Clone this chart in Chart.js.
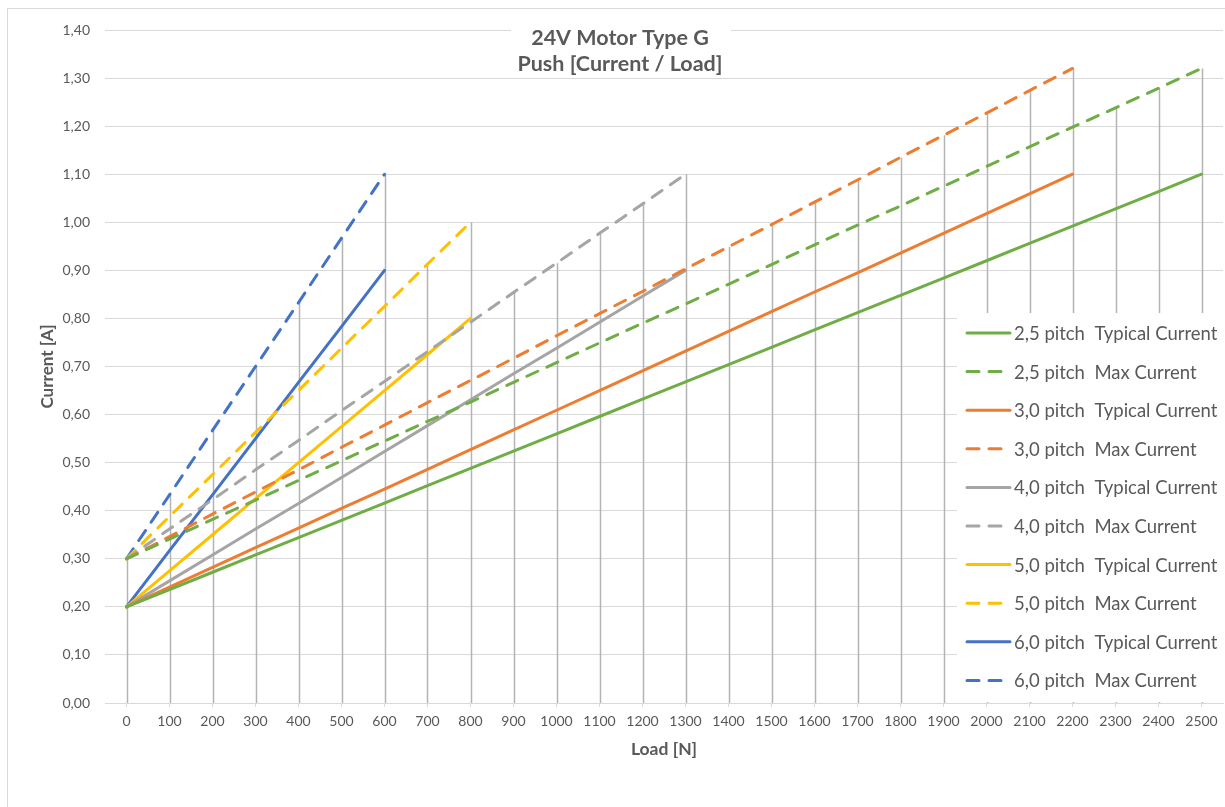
<!DOCTYPE html>
<html>
<head>
<meta charset="utf-8">
<title>24V Motor Type G</title>
<script src="https://cdn.jsdelivr.net/npm/chart.js@4.4.1/dist/chart.umd.min.js"></script>
<style>
    html, body { margin: 0; padding: 0; background: #fff; overflow: hidden; }
    #frame { position: absolute; left: 7px; top: 8px; width: 1240px; height: 820px; border: 1px solid #d9d9d9; }
    #wrap { position: absolute; left: 0; top: 0; width: 1225px; height: 807px; }
</style>
</head>
<body>
<div id="frame"></div>
<div id="wrap"><canvas id="motorChart"></canvas></div>
<script>
// Load categories [N]
const loads = ['0', '100', '200', '300', '400', '500', '600', '700', '800', '900', '1000', '1100', '1200',
    '1300', '1400', '1500', '1600', '1700', '1800', '1900', '2000', '2100', '2200', '2300', '2400', '2500'];

// Current [A] per pitch
const pitch25Typ = [0.200, 0.236, 0.272, 0.308, 0.344, 0.380, 0.416, 0.452, 0.488, 0.524, 0.560, 0.596, 0.632,
    0.668, 0.704, 0.740, 0.776, 0.812, 0.848, 0.884, 0.920, 0.956, 0.992, 1.028, 1.064, 1.100];
const pitch25Max = [0.300, 0.341, 0.382, 0.422, 0.463, 0.504, 0.545, 0.586, 0.626, 0.667, 0.708, 0.749, 0.790,
    0.830, 0.871, 0.912, 0.953, 0.994, 1.034, 1.075, 1.116, 1.157, 1.198, 1.238, 1.279, 1.320];
const pitch30Typ = [0.200, 0.241, 0.282, 0.323, 0.364, 0.405, 0.445, 0.486, 0.527, 0.568, 0.609, 0.650, 0.691,
    0.732, 0.773, 0.814, 0.855, 0.895, 0.936, 0.977, 1.018, 1.059, 1.100];
const pitch30Max = [0.300, 0.346, 0.393, 0.439, 0.485, 0.532, 0.578, 0.625, 0.671, 0.717, 0.764, 0.810, 0.856,
    0.903, 0.949, 0.995, 1.042, 1.088, 1.135, 1.181, 1.227, 1.274, 1.320];
const pitch40Typ = [0.200, 0.254, 0.308, 0.362, 0.415, 0.469, 0.523, 0.577, 0.631, 0.685, 0.738, 0.792, 0.846, 0.900];
const pitch40Max = [0.300, 0.362, 0.423, 0.485, 0.546, 0.608, 0.669, 0.731, 0.792, 0.854, 0.915, 0.977, 1.038, 1.100];
const pitch50Typ = [0.200, 0.275, 0.350, 0.425, 0.500, 0.575, 0.650, 0.725, 0.800];
const pitch50Max = [0.300, 0.388, 0.475, 0.563, 0.650, 0.738, 0.825, 0.913, 1.000];
const pitch60Typ = [0.200, 0.317, 0.433, 0.550, 0.667, 0.783, 0.900];
const pitch60Max = [0.300, 0.433, 0.567, 0.700, 0.833, 0.967, 1.100];

const seriesLabels = [
    '2,5 pitch  Typical Current', '2,5 pitch  Max Current',
    '3,0 pitch  Typical Current', '3,0 pitch  Max Current',
    '4,0 pitch  Typical Current', '4,0 pitch  Max Current',
    '5,0 pitch  Typical Current', '5,0 pitch  Max Current',
    '6,0 pitch  Typical Current', '6,0 pitch  Max Current'
];

// Colors (Office palette)
const greenColor = '#70ad47';
const orangeColor = '#ed7d31';
const grayColor = '#a5a5a5';
const yellowColor = '#ffc000';
const blueColor = '#4472c4';
const textColor = '#595959';
const gridColor = '#d9d9d9';
const dropColor = '#b4b4b4';
const fontFamily = 'Lato, "Open Sans", sans-serif';
const dashPattern = [12, 10];

function makeSeries(label, data, color, dashed) {
    return {
        label: label,
        data: data,
        borderColor: color,
        backgroundColor: color,
        borderWidth: 3,
        borderDash: dashed ? dashPattern : [],
        borderCapStyle: 'round',
        pointRadius: 0,
        pointHoverRadius: 0,
        tension: 0,
        fill: false
    };
}

// Drop lines from the highest point of each load down to the axis
const dropLines = {
    id: 'dropLines',
    beforeDatasetsDraw: (chart) => {
        const ctx = chart.ctx;
        const xAxis = chart.scales.x;
        const yAxis = chart.scales.y;
        ctx.save();
        ctx.strokeStyle = dropColor;
        ctx.lineWidth = 1.5;
        loads.forEach((l, i) => {
            const vals = chart.data.datasets.map(d => d.data[i]).filter(v => v !== undefined && v !== null);
            if (!vals.length) return;
            const px = Math.round(xAxis.getPixelForValue(i)) + 0.5;
            ctx.beginPath();
            ctx.moveTo(px, yAxis.getPixelForValue(Math.max(...vals)));
            ctx.lineTo(px, yAxis.getPixelForValue(0));
            ctx.stroke();
        });
        ctx.restore();
    }
};

// Title and legend boxes drawn over the plot area
const overlay = {
    id: 'overlay',
    afterDraw: (chart) => {
        const ctx = chart.ctx;
        ctx.save();

        // title
        ctx.fillStyle = '#fff';
        ctx.fillRect(511, 21, 220, 56);
        ctx.fillStyle = textColor;
        ctx.font = 'bold 21.5px ' + fontFamily;
        ctx.textAlign = 'center';
        ctx.textBaseline = 'middle';
        ctx.fillText('24V Motor Type G', 620, 38);
        ctx.fillText('Push [Current / Load]', 620, 64);

        // legend
        ctx.fillStyle = '#fff';
        ctx.fillRect(957, 313, 268, 389);
        ctx.font = '18.5px ' + fontFamily;
        ctx.textAlign = 'left';
        chart.data.datasets.forEach((ds, i) => {
            const y = 333 + i * 38.6;
            ctx.strokeStyle = ds.borderColor;
            ctx.lineWidth = 3;
            ctx.lineCap = 'round';
            ctx.setLineDash(ds.borderDash);
            ctx.beginPath();
            ctx.moveTo(967, y);
            ctx.lineTo(1010, y);
            ctx.stroke();
            ctx.setLineDash([]);
            ctx.fillStyle = textColor;
            ctx.fillText(ds.label, 1014, y + 1);
        });
        ctx.restore();
    }
};

new Chart(document.getElementById('motorChart').getContext('2d'), {
    type: 'line',
    data: {
        labels: loads,
        datasets: [
            makeSeries(seriesLabels[0], pitch25Typ, greenColor, false),
            makeSeries(seriesLabels[1], pitch25Max, greenColor, true),
            makeSeries(seriesLabels[2], pitch30Typ, orangeColor, false),
            makeSeries(seriesLabels[3], pitch30Max, orangeColor, true),
            makeSeries(seriesLabels[4], pitch40Typ, grayColor, false),
            makeSeries(seriesLabels[5], pitch40Max, grayColor, true),
            makeSeries(seriesLabels[6], pitch50Typ, yellowColor, false),
            makeSeries(seriesLabels[7], pitch50Max, yellowColor, true),
            makeSeries(seriesLabels[8], pitch60Typ, blueColor, false),
            makeSeries(seriesLabels[9], pitch60Max, blueColor, true)
        ]
    },
    options: {
        responsive: true,
        maintainAspectRatio: false,
        animation: false,
        devicePixelRatio: 1,
        layout: { padding: { left: 0, top: 30, right: 2, bottom: 0 } },
        plugins: {
            legend: { display: false },
            title: { display: false },
            tooltip: { enabled: false }
        },
        scales: {
            x: {
                type: 'category',
                offset: true,
                grid: {
                    display: true,
                    drawOnChartArea: false,
                    drawTicks: true,
                    tickLength: 4,
                    color: gridColor
                },
                border: { display: true, color: gridColor, width: 1 },
                ticks: {
                    color: textColor,
                    font: { family: fontFamily, size: 14 },
                    padding: 6,
                    maxRotation: 0,
                    autoSkip: false
                },
                title: {
                    display: true,
                    text: 'Load [N]',
                    color: textColor,
                    font: { family: fontFamily, size: 17.5, weight: 'bold' },
                    padding: { top: 0, bottom: 47 }
                },
                afterFit: (scale) => { scale.height = 104; }
            },
            y: {
                min: 0,
                max: 1.4,
                grid: {
                    color: gridColor,
                    drawTicks: false
                },
                border: { display: false },
                ticks: {
                    stepSize: 0.1,
                    color: textColor,
                    font: { family: fontFamily, size: 14 },
                    padding: 15,
                    callback: function(value) {
                        return value.toFixed(2).replace('.', ',');
                    }
                },
                title: {
                    display: true,
                    text: 'Current [A]',
                    color: textColor,
                    font: { family: fontFamily, size: 17, weight: 'bold' },
                    padding: { top: 37, bottom: 0 }
                },
                afterFit: (scale) => { scale.width = 105; }
            }
        }
    },
    plugins: [dropLines, overlay]
});
</script>
</body>
</html>
